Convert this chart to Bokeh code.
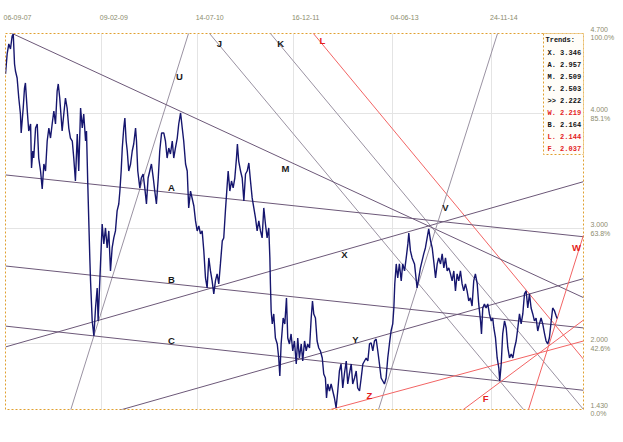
import pandas as pd
from bokeh.plotting import figure
from bokeh.models import Range1d, FixedTicker, LinearAxis, ColumnDataSource, Grid
from bokeh.core.properties import value
from bokeh.embed import file_html
from bokeh.resources import INLINE

# ---------------- data ----------------
start_date = "2007-09-06"
x_end_day = 3133            # right edge of the visible window (days after start)
y_low, y_high = 1.43, 4.70  # visible price window

tick_dates = ["2007-09-06", "2009-02-09", "2010-07-14", "2011-12-16", "2013-06-04", "2014-11-24"]
tick_labels = ["06-09-07", "09-02-09", "14-07-10", "16-12-11", "04-06-13", "24-11-14"]

level_values = [1.43, 2.0, 3.0, 4.0, 4.7]
level_text = ["1.430", "2.000", "3.000", "4.000", "4.700"]
level_pct = ["0.0%", "42.6%", "63.8%", "85.1%", "100.0%"]

price_day = [
    0, 9, 18, 27, 36, 42, 49, 54, 63, 72, 81, 85, 96, 103, 108, 118, 126, 136, 141, 148,
    153, 163, 172, 180, 190, 199, 208, 217, 226, 235, 244, 253, 262, 271, 280, 286, 294, 307, 316, 325,
    334, 343, 352, 362, 370, 379, 389, 397, 407, 416, 424, 434, 439, 446, 451, 457, 461, 470, 479, 488,
    497, 502, 515, 524, 533, 542, 551, 560, 569, 578, 587, 596, 605, 614, 620, 627, 633, 641, 647, 654,
    660, 668, 678, 687, 695, 705, 710, 717, 728, 736, 746, 755, 764, 773, 782, 791, 801, 809, 818, 828,
    836, 846, 858, 867, 876, 885, 894, 904, 912, 921, 931, 939, 949, 958, 966, 976, 985, 993, 1003, 1021,
    1030, 1039, 1048, 1057, 1066, 1075, 1084, 1093, 1102, 1111, 1120, 1129, 1138, 1147, 1156, 1165, 1175, 1183, 1192, 1202,
    1207, 1216, 1225, 1234, 1243, 1252, 1257, 1264, 1274, 1283, 1292, 1301, 1310, 1319, 1328, 1337, 1346, 1355, 1364, 1373,
    1382, 1391, 1400, 1409, 1418, 1427, 1433, 1436, 1440, 1446, 1454, 1463, 1473, 1481, 1487, 1494, 1505, 1514, 1523, 1530,
    1539, 1548, 1557, 1566, 1576, 1584, 1593, 1603, 1611, 1621, 1630, 1638, 1648, 1657, 1664, 1671, 1680, 1689, 1698, 1707,
    1717, 1725, 1734, 1740, 1747, 1756, 1765, 1774, 1783, 1792, 1801, 1810, 1819, 1828, 1837, 1847, 1855, 1864, 1874, 1882,
    1892, 1901, 1909, 1919, 1928, 1937, 1946, 1955, 1964, 1973, 1982, 1991, 2000, 2009, 2018, 2027, 2036, 2045, 2054, 2063,
    2072, 2081, 2090, 2099, 2105, 2110, 2118, 2126, 2135, 2145, 2153, 2163, 2172, 2181, 2186, 2195, 2204, 2217, 2231, 2249,
    2267, 2276, 2294, 2304, 2313, 2321, 2331, 2340, 2348, 2358, 2367, 2376, 2385, 2394, 2403, 2412, 2421, 2430, 2439, 2448,
    2457, 2466, 2475, 2484, 2493, 2502, 2511, 2520, 2529, 2538, 2547, 2557, 2565, 2575, 2580, 2587, 2596, 2605, 2614, 2623,
    2633, 2641, 2647, 2656, 2665, 2674, 2679, 2687, 2695, 2705, 2714, 2723, 2732, 2741, 2750, 2759, 2768, 2777, 2786, 2795,
    2804, 2813, 2822, 2831, 2840, 2849, 2858, 2867, 2876, 2885, 2894, 2903, 2912, 2922, 2930, 2939, 2948, 2958, 2966, 2976,
    2985, 2990,
]
price = [
    4.348, 4.522, 4.609, 4.565, 4.678, 4.696, 4.435, 4.374, 4.313, 4.139, 4.0, 3.835, 4.052, 4.226, 4.270, 4.026, 3.852, 3.913, 3.530, 3.678,
    3.617, 3.878, 3.913, 3.617, 3.504, 3.348, 3.565, 3.504, 3.765, 3.878, 3.791, 3.913, 4.026, 3.913, 4.2, 4.261, 4.139, 3.852, 4.0, 4.139,
    4.052, 3.878, 3.791, 3.765, 3.617, 3.417, 3.826, 3.504, 4.052, 3.878, 4.0, 3.765, 3.852, 3.391, 3.096, 2.748, 2.548, 2.2, 2.070, 2.313,
    2.487, 2.2, 2.696, 3.043, 2.870, 3.009, 2.835, 2.983, 2.635, 2.835, 2.922, 2.983, 3.157, 3.217, 3.330, 3.504, 3.704, 3.878, 3.965, 3.765,
    3.678, 3.504, 3.565, 3.678, 3.739, 3.878, 3.765, 3.504, 3.357, 3.443, 3.478, 3.357, 3.217, 3.443, 3.504, 3.565, 3.443, 3.330, 3.217, 3.443,
    3.678, 3.835, 3.835, 3.765, 3.617, 3.704, 3.652, 3.765, 3.617, 3.704, 3.791, 3.913, 4.009, 3.878, 3.765, 3.565, 3.504, 3.183, 3.330, 3.2,
    3.070, 2.983, 3.026, 2.957, 2.983, 2.809, 2.574, 2.487, 2.748, 2.635, 2.548, 2.435, 2.548, 2.609, 2.522, 2.696, 2.896, 2.922, 3.157, 3.391,
    3.504, 3.330, 3.417, 3.357, 3.443, 3.617, 3.739, 3.591, 3.504, 3.443, 3.243, 3.478, 3.504, 3.574, 3.417, 3.270, 3.183, 3.096, 2.983, 3.070,
    2.983, 2.922, 3.183, 3.043, 2.922, 3.009, 2.748, 2.522, 2.287, 2.174, 2.261, 2.052, 2.0, 1.878, 1.722, 2.0, 2.226, 2.174, 2.4, 2.052,
    2.0, 2.087, 1.939, 2.026, 1.826, 2.052, 1.878, 2.0, 1.852, 2.026, 1.939, 2.0, 1.965, 2.226, 2.374, 2.261, 2.226, 2.026, 1.965, 1.939,
    1.878, 1.739, 1.704, 1.530, 1.652, 1.591, 1.652, 1.591, 1.530, 1.443, 1.591, 1.765, 1.826, 1.617, 1.739, 1.852, 1.652, 1.739, 1.826, 1.652,
    1.704, 1.765, 1.617, 1.591, 1.704, 1.826, 1.852, 1.878, 1.852, 2.0, 2.009, 1.939, 2.026, 2.043, 1.939, 1.826, 1.704, 1.678, 1.652, 1.704,
    1.878, 2.0, 2.113, 2.174, 2.313, 2.522, 2.696, 2.574, 2.696, 2.548, 2.696, 2.635, 2.748, 2.870, 2.965, 2.809, 2.748, 2.696, 2.487, 2.661,
    2.783, 2.835, 3.0, 2.896, 2.835, 2.722, 2.574, 2.696, 2.748, 2.696, 2.783, 2.661, 2.748, 2.635, 2.661, 2.609, 2.548, 2.635, 2.461, 2.609,
    2.548, 2.635, 2.522, 2.461, 2.522, 2.461, 2.374, 2.4, 2.330, 2.548, 2.609, 2.522, 2.348, 2.2, 2.087, 2.313, 2.348, 2.313, 2.348, 2.261,
    2.2, 2.226, 2.139, 2.052, 1.878, 1.791, 1.678, 1.826, 2.087, 2.2, 2.139, 1.965, 1.878, 1.913, 1.878, 1.965, 2.026, 2.139, 2.261, 2.174,
    2.261, 2.435, 2.461, 2.313, 2.435, 2.313, 2.261, 2.2, 2.226, 2.113, 2.174, 2.226, 2.174, 2.087, 2.026, 2.0, 2.052, 2.2, 2.313, 2.287,
    2.243, 2.222,
]

# trend lines: two anchor points each (day, price)
trend_names = ["J", "K", "L", "U", "M", "A", "X", "V", "B", "Y", "C", "Z", "F", "W"]
trend_d1 = [1106, 1436, 1669, 479, 42, 0, 0, 2022, 0, 1599, 479, 1792, 2482, 2835]
trend_p1 = [4.70, 4.70, 4.70, 2.070, 4.696, 3.470, 1.974, 1.43, 2.678, 1.870, 2.070, 1.443, 1.43, 1.43]
trend_d2 = [2679, 3133, 2990, 992, 2990, 2990, 2990, 2667, 2990, 2990, 2679, 3133, 2990, 2990]
trend_p2 = [1.678, 1.43, 2.144, 4.70, 2.509, 2.957, 3.346, 4.70, 2.164, 2.503, 1.678, 2.026, 2.037, 2.219]
trend_group = ["light", "light", "red", "light", "dark", "dark", "dark", "light", "dark", "dark", "dark", "red", "red", "red"]
# where each letter is written (day, price)
label_day = [1160, 1491, 1718, 943, 1518, 900, 1837, 2385, 900, 1897, 900, 1973, 2602, 3095]
label_price = [4.617, 4.617, 4.635, 4.322, 3.530, 3.357, 2.774, 3.183, 2.557, 2.043, 2.026, 1.548, 1.522, 2.843]

legend_names = ["X.", "A.", "M.", "Y.", ">>", "W.", "B.", "L.", "F."]
legend_values = [3.346, 2.957, 2.509, 2.503, 2.222, 2.219, 2.164, 2.144, 2.037]
legend_red = [False, False, False, False, False, True, False, True, True]

# ---------------- styling ----------------
FRAME_W, FRAME_H = 578, 376
AXIS_TEXT = "#8c8c6e"
GRID = "#e4e4e4"
FRAME_LINE = "#e0a030"
LINE_COLORS = {"light": "#9a92a2", "dark": "#6c5878", "red": "#f26464"}
LETTER_COLORS = {"light": "#1a1a1a", "dark": "#1a1a1a", "red": "#e41c1c"}
AXIS_FONT = "Liberation Sans"

start = pd.Timestamp(start_date)
tick_days = [(pd.Timestamp(d) - start).days for d in tick_dates]

p = figure(frame_width=FRAME_W, frame_height=FRAME_H,
           x_range=Range1d(0, x_end_day), y_range=Range1d(y_low, y_high),
           x_axis_location=None, y_axis_location=None,
           output_backend="svg", toolbar_location=None,
           min_border_left=5, min_border_top=33, min_border_bottom=17, min_border_right=28,
           background_fill_color="white", border_fill_color="white")
p.grid.visible = False
p.outline_line_color = FRAME_LINE
p.outline_line_dash = "2 2"
p.outline_line_width = 1

p.add_layout(Grid(dimension=0, ticker=FixedTicker(ticks=tick_days), grid_line_color=GRID), "center")
p.add_layout(Grid(dimension=1, ticker=FixedTicker(ticks=level_values), grid_line_color=GRID), "center")

xpp = x_end_day / FRAME_W            # days per pixel
ypp = (y_high - y_low) / FRAME_H     # price per pixel

# right price axis (value + percentage)
ry = LinearAxis(ticker=FixedTicker(ticks=level_values),
                major_label_overrides={v: f"{t}\n{pc}" for v, t, pc in zip(level_values, level_text, level_pct)})
# top date axis: labels start at their grid line
shift = 12 * xpp
top_ticks = [d + shift for d in tick_days]
tx = LinearAxis(ticker=FixedTicker(ticks=top_ticks),
                major_label_overrides={t: l for t, l in zip(top_ticks, tick_labels)})
for ax, standoff in ((ry, 7), (tx, 14)):
    ax.axis_line_color = None
    ax.major_tick_line_color = None
    ax.minor_tick_line_color = None
    ax.major_tick_out = 0
    ax.major_tick_in = 0
    ax.minor_tick_out = 0
    ax.major_label_text_font = AXIS_FONT
    ax.major_label_text_font_size = "7px"
    ax.major_label_text_color = AXIS_TEXT
    ax.major_label_standoff = standoff
p.add_layout(ry, "right")
p.add_layout(tx, "above")

# trend lines extended over the whole window
x0s, x1s, y0s, y1s, cols = [], [], [], [], []
for d1, p1, d2, p2, g in zip(trend_d1, trend_p1, trend_d2, trend_p2, trend_group):
    k = (p2 - p1) / (d2 - d1)
    x0s.append(0); x1s.append(x_end_day)
    y0s.append(p1 + k * (0 - d1)); y1s.append(p1 + k * (x_end_day - d1))
    cols.append(LINE_COLORS[g])
p.segment(x0=x0s, y0=y0s, x1=x1s, y1=y1s, line_color=cols, line_width=1)

# price
p.line(price_day, price, line_color="#16166e", line_width=1.4)

# trend letters
lab_src = ColumnDataSource(dict(x=label_day, y=label_price, t=trend_names,
                                c=[LETTER_COLORS[g] for g in trend_group]))
p.text(x="x", y="y", text="t", source=lab_src, text_color="c", text_align="center",
       text_baseline="middle", text_font=value("Liberation Sans"), text_font_size="9.5px",
       text_font_style="bold")

# legend box
box_left = x_end_day - 40 * xpp
box_bottom = y_high - 121 * ypp
p.quad(left=[box_left], right=[x_end_day], top=[y_high], bottom=[box_bottom],
       fill_color="#fffdf8", line_color=FRAME_LINE, line_dash="2 2", line_width=1)
rows_t = ["Trends:"] + [f"{n} {v:.3f}" for n, v in zip(legend_names, legend_values)]
rows_c = ["#111111"] + [("#e41c1c" if r else "#111111") for r in legend_red]
rows_x = [x_end_day - 38 * xpp] + [x_end_day - 36 * xpp] * len(legend_names)
rows_y = [y_high - 6.5 * ypp] + [y_high - (19.5 + 12 * i) * ypp for i in range(len(legend_names))]
p.text(x=rows_x, y=rows_y, text=rows_t, text_color=rows_c, text_align="left", text_baseline="middle",
       text_font=value("Liberation Mono"), text_font_size="7px", text_font_style="bold")

open("out.html", "w").write(file_html(p, INLINE))
